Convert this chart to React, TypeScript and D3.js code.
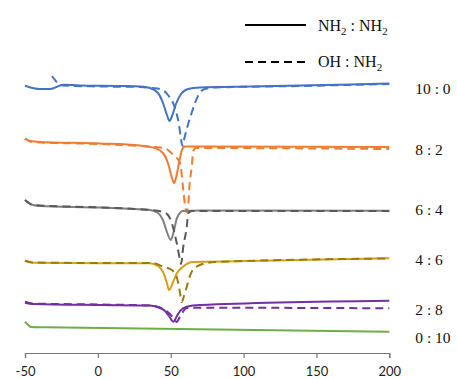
import React, { useEffect, useRef } from 'react';
import * as d3 from 'd3';

const WIDTH = 457;
const HEIGHT = 379;

// temperature (°C) vs stacked heat flow (arbitrary units, offset per ratio)
type Pt = [number, number];

const blueSolid: Pt[] = [
  [-50, 267.3], [-39.7, 264], [-32.8, 264], [-23.7, 268.3], [-12.3, 267.5], [15.2, 267],
  [28.9, 266.5], [35.8, 265], [41.3, 260], [44.7, 250], [47.4, 238], [49.2, 232],
  [50.9, 237], [53.6, 249], [57.1, 259], [61.9, 264], [70.1, 265.5], [104.4, 266.5],
  [138.7, 267.5], [173, 268.5], [200, 269.5],
];
const blueDashed: Pt[] = [
  [-31.5, 277], [-29.4, 273], [-27.4, 269.5], [-23.9, 267.5], [1.5, 266.5], [28.9, 266],
  [37.2, 265], [42.6, 264], [48.1, 258], [52.9, 245], [55.7, 228], [57.1, 213],
  [58.1, 207], [59.1, 213], [61.2, 225], [63.9, 238], [66.7, 250], [69.4, 259],
  [73.5, 264], [80.4, 265.5], [138.7, 267], [200, 269],
];

const orangeSolid: Pt[] = [
  [-50, 214.5], [-46.6, 212], [-39.7, 211], [1.5, 209.5], [28.9, 207.5], [39.2, 205],
  [44.7, 200], [48.1, 190], [50.9, 175], [52.3, 170], [53.6, 175], [55.7, 190],
  [57.7, 203], [59.8, 206.5], [70.1, 206.5], [200, 206],
];
const orangeDashed: Pt[] = [
  [-50, 214.5], [-46.6, 211.5], [-39.7, 210.5], [1.5, 209], [28.9, 207], [39.2, 206],
  [46.1, 204.7], [50.6, 199.7], [56.4, 190], [58.6, 163], [59.8, 148], [61, 141],
  [62, 147], [62.8, 166], [64.4, 186], [65.5, 202], [67.4, 205], [200, 204],
];

const graySolid: Pt[] = [
  [-50, 153], [-44.5, 148], [-39.7, 147], [1.5, 145.5], [35.8, 143], [41.3, 140],
  [44.7, 133], [47.4, 121], [50, 113], [52, 121], [54.3, 135], [58.4, 142],
  [70.1, 142.5], [200, 142.3],
];
const grayDashed: Pt[] = [
  [-50, 153], [-44.5, 148], [1.5, 145.5], [35.8, 143], [44.7, 141], [48.1, 138],
  [50.5, 131], [54.1, 110], [56.4, 93], [57.1, 89], [58.6, 106], [61, 126],
  [62.1, 140], [64.6, 142], [200, 142],
];

const goldSolid: Pt[] = [
  [-50, 92.3], [-44.5, 90.3], [1.5, 89.7], [35.8, 89.7], [41.3, 87], [44.7, 81],
  [47.4, 70], [48.8, 63], [51.6, 71], [54.3, 80], [58.4, 86.3], [65.3, 91],
  [77, 91.3], [200, 94.7],
];
const goldDashed: Pt[] = [
  [-50, 92.3], [-44.5, 90.5], [1.5, 90], [37.2, 90], [44.9, 86.3], [50.7, 83],
  [54.1, 76], [56.4, 60], [57.5, 51], [59.1, 57], [61, 66.3], [64.4, 81.3],
  [70.1, 88], [80.4, 91], [200, 94.5],
];

const purpleSolid: Pt[] = [
  [-50, 50.3], [-44.5, 49], [1.5, 48], [35.8, 47.5], [42.6, 45], [46.1, 42],
  [48.8, 37], [51.8, 31.3], [54.3, 37], [56.4, 42], [61, 46.3], [70.1, 48], [200, 52.3],
];
const purpleDashed: Pt[] = [
  [-50, 51.3], [-44.5, 49.5], [1.5, 48.5], [35.8, 47.5], [46.1, 43], [49.5, 39],
  [52.3, 34], [54.1, 31], [56.4, 36.3], [61, 45], [70.1, 45.3], [200, 44.7],
];

const greenSolid: Pt[] = [
  [-50, 31.3], [-47.7, 28], [-45.9, 26], [-36.3, 25.7], [200, 21.3],
];

const xTicks = [-50, 0, 50, 100, 150, 200];
const ratioLabels = ['10 : 0', '8 : 2', '6 : 4', '4 : 6', '2 : 8', '0 : 10'];
const ratioLevels = [264.7, 203.7, 143.7, 93.7, 43.7, 15.7];

const series = [
  { data: blueSolid, color: '#4472C4', dashed: false },
  { data: blueDashed, color: '#4472C4', dashed: true },
  { data: orangeSolid, color: '#ED7D31', dashed: false },
  { data: orangeDashed, color: '#ED7D31', dashed: true },
  { data: graySolid, color: '#808080', dashed: false },
  { data: grayDashed, color: '#595959', dashed: true },
  { data: goldSolid, color: '#D6A114', dashed: false },
  { data: goldDashed, color: '#9C7B0E', dashed: true },
  { data: purpleSolid, color: '#7030A0', dashed: false },
  { data: purpleDashed, color: '#7030A0', dashed: true },
  { data: greenSolid, color: '#70AD47', dashed: false },
];

const DASH = '8,5';

const App = () => {
  const axisRef = useRef<SVGGElement>(null);

  const x = d3.scaleLinear().domain([-50, 200]).range([25, 389.3]);
  const y = d3.scaleLinear().domain([0, 330]).range([353, 23]);

  const line = d3
    .line<Pt>()
    .x((d) => x(d[0]))
    .y((d) => y(d[1]))
    .curve(d3.curveMonotoneX);

  useEffect(() => {
    if (axisRef.current) {
      const g = d3.select(axisRef.current);
      g.selectAll('*').remove();
      g.call(
        d3
          .axisBottom(x)
          .tickValues(xTicks)
          .tickSize(5)
          .tickPadding(9)
          .tickFormat((d) => String(d))
      );
      g.select('.domain').attr('stroke', '#767676').attr('stroke-width', 1.2);
      g.selectAll('.tick line').attr('stroke', '#767676').attr('stroke-width', 1.2);
      g.selectAll('.tick text')
        .attr('fill', '#222')
        .style('font-family', 'Lato, "Liberation Sans", sans-serif')
        .style('font-size', '13px');
    }
  }, [x]);

  return (
    <svg
      width={WIDTH}
      height={HEIGHT}
      viewBox={`0 0 ${WIDTH} ${HEIGHT}`}
      style={{ position: 'absolute', left: 0, top: 0, background: '#fff' }}
    >
      <g>
        {series.map((s, i) => (
          <path
            key={i}
            d={line(s.data) as string}
            fill="none"
            stroke={s.color}
            strokeWidth={2}
            strokeDasharray={s.dashed ? DASH : undefined}
            strokeLinejoin="round"
          />
        ))}
      </g>

      <g ref={axisRef} transform={`translate(0, ${y(0)})`} />

      {/* ratio labels */}
      <g fontFamily='"Liberation Serif", "Times New Roman", serif' fontSize={15.5} fill="#111">
        {ratioLabels.map((t, i) => (
          <text key={t} x={x(200) + 26} y={y(ratioLevels[i])} dominantBaseline="central">
            {t}
          </text>
        ))}
      </g>

      {/* legend */}
      <g fontFamily='"Liberation Serif", "Times New Roman", serif' fontSize={16} fill="#111">
        <line x1={245} x2={306} y1={25} y2={25} stroke="#000" strokeWidth={2} />
        <text x={318} y={30.5}>
          NH<tspan fontSize={11} dy={4}>2</tspan>
          <tspan dy={-4}> : NH</tspan>
          <tspan fontSize={11} dy={4}>2</tspan>
        </text>
        <line x1={245} x2={306} y1={62} y2={62} stroke="#000" strokeWidth={2} strokeDasharray={DASH} />
        <text x={318} y={67}>
          OH : NH<tspan fontSize={11} dy={4}>2</tspan>
        </text>
      </g>
    </svg>
  );
};

export default App;
